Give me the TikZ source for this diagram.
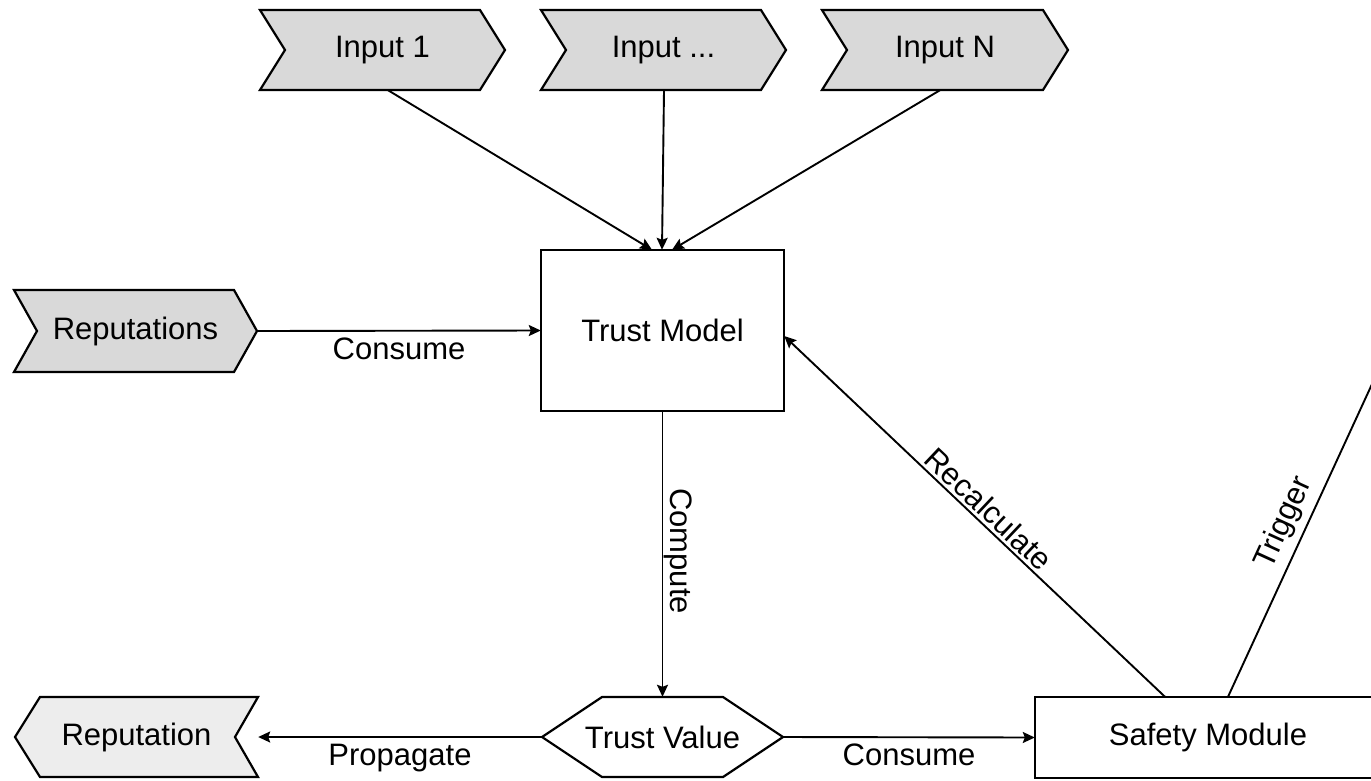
\documentclass[tikz,border=0pt]{standalone}
\usepackage{fontspec}
\setmainfont{Liberation Sans}
\usetikzlibrary{arrows.meta}
\tikzset{
  x=1pt, y=1pt,
  every node/.style={font=\fontsize{31}{36}\selectfont},
  shp/.style={draw=black, line width=2.2pt, line join=miter},
  darkfill/.style={shp, fill=black!15},
  lightfill/.style={shp, fill=black!7},
  box/.style={draw=none, inner sep=0pt},
  conn/.style={line width=1.9pt, -{Stealth[length=12pt,width=11pt,inset=2pt]}},
  plain/.style={line width=1.9pt},
  lbl/.style={inner sep=2pt},
}
\begin{document}
\begin{tikzpicture}
\useasboundingbox (0,0) rectangle (1371,-780);
\clip (0,0) rectangle (1371,-780);
% shapes
\draw[darkfill] (260,-10) -- (480,-10) -- (505,-50) -- (480,-90) -- (260,-90) -- (285,-50) -- cycle;
\draw[darkfill] (541,-10) -- (761,-10) -- (786,-50) -- (761,-90) -- (541,-90) -- (566,-50) -- cycle;
\draw[darkfill] (822,-10) -- (1043,-10) -- (1068,-50) -- (1043,-90) -- (822,-90) -- (847,-50) -- cycle;
\draw[darkfill] (14,-290) -- (234,-290) -- (257,-331) -- (234,-372) -- (14,-372) -- (37,-331) -- cycle;
\draw[lightfill] (40,-697) -- (258,-697) -- (235,-737) -- (258,-777) -- (40,-777) -- (15,-737) -- cycle;
\draw[shp, fill=white] (542,-737) -- (602,-697) -- (723,-697) -- (783,-737) -- (723,-777) -- (602,-777) -- cycle;
\draw[shp, fill=white] (541,-250) rectangle (784,-411);
\draw[shp, fill=white] (1035,-697) rectangle (1385,-778);
% nodes
\node[box, minimum width=245pt, minimum height=80pt] (in1) at (382.5,-50) {Input 1};
\node[box, minimum width=245pt, minimum height=80pt] (inm) at (663.5,-50) {Input ...};
\node[box, minimum width=246pt, minimum height=80pt] (inn) at (945,-50) {Input N};
\node[box, minimum width=243pt, minimum height=82pt] (reps) at (135.5,-331) {Reputations};
\node[box, minimum width=243pt, minimum height=80pt] (rep) at (136.5,-737) {Reputation};
\node[box, minimum width=243pt, minimum height=161pt] (tm) at (662.5,-330.5) {Trust Model};
\node[box, minimum width=241pt, minimum height=80pt] (tv) at (662.5,-737) {Trust Value};
\node[box, minimum width=346pt, minimum height=81pt] (sm) at (1208,-737.5) {Safety Module};
\coordinate (trigend) at (1390,-345);
% connectors
\draw[conn] (in1.south -| 388,0) -- (tm.north -| 652,0);
\draw[conn] (inm.south -| 664,0) -- (tm.north -| 662,0);
\draw[conn] (inn.south -| 940,0) -- (tm.north -| 672,0);
\draw[conn] (reps.east) -- node[lbl, below=4pt] {Consume} (tm.west);
\draw[conn] (tm.south) -- (tv.north);
\node[lbl, rotate=-90] (lcomp) at (678,-551) {Compute};
\draw[conn] (tv.west) -- node[lbl, below=4pt] {Propagate} (rep.east);
\draw[conn] (tv.east) -- node[lbl, below=4pt] {Consume} (sm.west);
\draw[conn] (sm.north -| 1165,0) -- (tm.east |- 0,-336);
\node[lbl, rotate=-43.4] (lrec) at (989,-509) {Recalculate};
\draw[plain] (sm.north -| 1228,0) -- (trigend);
\node[lbl, rotate=65.4] (ltrig) at (1284,-523) {Trigger};
\end{tikzpicture}
\end{document}
